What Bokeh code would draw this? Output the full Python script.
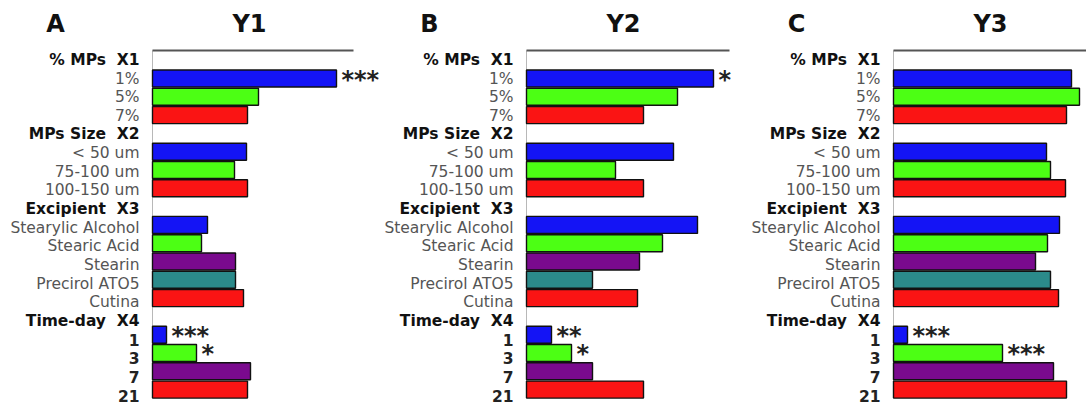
from bokeh.plotting import figure
from bokeh.models import Range1d, ColumnDataSource
from bokeh.core.properties import value
from bokeh.embed import file_html
from bokeh.resources import INLINE

# ---------------- data ----------------
rows = ["% MPs\u00a0\u00a0X1", "1%", "5%", "7%",
        "MPs Size\u00a0\u00a0X2", "< 50 um", "75-100 um", "100-150 um",
        "Excipient\u00a0\u00a0X3", "Stearylic Alcohol", "Stearic Acid", "Stearin", "Precirol ATO5", "Cutina",
        "Time-day\u00a0\u00a0X4", "1", "3", "7", "21"]
headers = ["% MPs\u00a0\u00a0X1", "MPs Size\u00a0\u00a0X2", "Excipient\u00a0\u00a0X3", "Time-day\u00a0\u00a0X4"]
bold_items = ["1", "3", "7", "21"]
bar_rows = ["1%", "5%", "7%", "< 50 um", "75-100 um", "100-150 um",
            "Stearylic Alcohol", "Stearic Acid", "Stearin", "Precirol ATO5", "Cutina",
            "1", "3", "7", "21"]
bar_colors = ["#1414f5", "#4cff14", "#fa1414",
              "#1414f5", "#4cff14", "#fa1414",
              "#1414f5", "#4cff14", "#7a0a8e", "#2b8a8a", "#fa1414",
              "#1414f5", "#4cff14", "#7a0a8e", "#fa1414"]
panel_letters = ["A", "B", "C"]
panel_titles = ["Y1", "Y2", "Y3"]
y1 = [184, 106, 95, 94, 82, 95, 55, 49, 83, 83, 91, 14, 44, 98, 95]
y2 = [187, 151, 117, 147, 89, 117, 171, 136, 113, 66, 111, 25, 45, 66, 117]
y3 = [178, 186, 173, 153, 157, 172, 166, 154, 142, 157, 165, 14, 109, 160, 173]
scale_max = [201, 203, 193]
stars1 = {"1%": "***", "1": "***", "3": "*"}
stars2 = {"1%": "*", "1": "**", "3": "*"}
stars3 = {"1": "***", "3": "***"}

panels = [(y1, stars1), (y2, stars2), (y3, stars3)]

# ---------------- layout ----------------
W, H = 1086, 405
origins = [152, 526, 893]       # pixel position of each panel's zero line

row_idx = {r: i for i, r in enumerate(rows)}

# bars: row i centred at 78 + 18.3*(i-1) px ; labels at 78 + 18.65*(i-1) px
p = figure(width=W, height=H, output_backend="svg", toolbar_location=None,
           x_range=Range1d(0, W), y_range=Range1d(1 + 327 / 18.3, 1 - 78 / 18.3),
           min_border=0, outline_line_color=None)
p.extra_y_ranges = {"lab": Range1d(1 + 327 / 18.65, 1 - 78 / 18.65)}
for k, o in enumerate(origins):
    p.extra_x_ranges["p%d" % k] = Range1d(-o, W - o)
p.axis.visible = False
p.grid.visible = False

FONT = "DejaVu Sans"
top_y = 1 + (50 - 78) / 18.3
bot_y = 1 + (397 - 78) / 18.3
title_y = 1 + (23 - 78) / 18.65

for k, (vals, stars) in enumerate(panels):
    xr = "p%d" % k
    # frame lines
    p.segment(x0=[0], y0=[top_y], x1=[0], y1=[bot_y], x_range_name=xr,
              line_color="#b8b8b8", line_width=1)
    p.segment(x0=[0], y0=[top_y], x1=[scale_max[k]], y1=[top_y], x_range_name=xr,
              line_color="#555555", line_width=2)
    # bars
    src = ColumnDataSource(dict(y=[row_idx[r] for r in bar_rows], v=vals, c=bar_colors))
    p.hbar(y="y", left=0, right="v", height=0.93, fill_color="c",
           line_color="#111111", line_width=1.4, source=src, x_range_name=xr)
    # labels
    norm = [r for r in rows if r not in headers and r not in bold_items]
    p.text(x=[-13] * len(norm), y=[row_idx[r] for r in norm], text=norm,
           x_range_name=xr, y_range_name="lab", text_align="right", text_baseline="middle",
           text_font=value(FONT), text_font_size="15.5px", text_color="#555555")
    p.text(x=[-13] * len(headers), y=[row_idx[r] for r in headers], text=headers,
           x_range_name=xr, y_range_name="lab", text_align="right", text_baseline="middle",
           text_font=value(FONT), text_font_size="15.5px", text_font_style="bold",
           text_color="#111111")
    p.text(x=[-13] * len(bold_items), y=[row_idx[r] for r in bold_items], text=bold_items,
           x_range_name=xr, y_range_name="lab", text_align="right", text_baseline="middle",
           text_font=value(FONT), text_font_size="15.5px", text_font_style="bold",
           text_color="#222222")
    # significance stars
    sr = list(stars.keys())
    p.text(x=[vals[bar_rows.index(r)] for r in sr], y=[row_idx[r] for r in sr],
           text=[stars[r] for r in sr], x_range_name=xr,
           x_offset=5, y_offset=1, text_align="left", text_baseline="alphabetic",
           text_font=value(FONT), text_font_size="24px", text_font_style="bold",
           text_color="#222222")
    # titles
    p.text(x=[-97], y=[title_y], text=[panel_letters[k]], x_range_name=xr, y_range_name="lab",
           text_align="center", text_baseline="middle", text_font=value(FONT),
           text_font_size="24px", text_font_style="bold", text_color="#111111")
    p.text(x=[97], y=[title_y], text=[panel_titles[k]], x_range_name=xr, y_range_name="lab",
           text_align="center", text_baseline="middle", text_font=value(FONT),
           text_font_size="24px", text_font_style="bold", text_color="#111111")

open("out.html", "w").write(file_html(p, INLINE))
